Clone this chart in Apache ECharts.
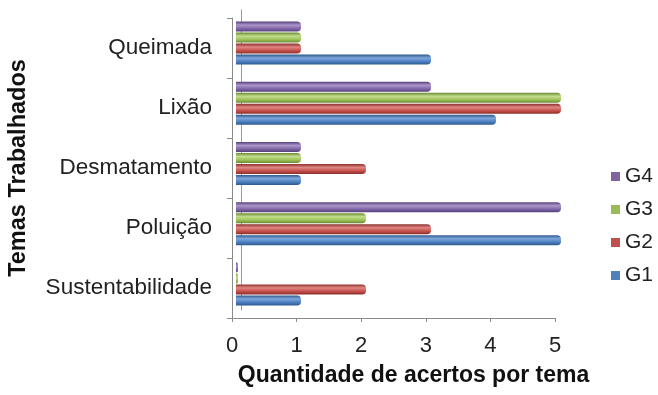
<!DOCTYPE html>
<html>
<head>
<meta charset="utf-8">
<script src="https://cdn.jsdelivr.net/npm/echarts@6/dist/echarts.min.js"></script>
<style>
html,body{margin:0;padding:0;background:#fff;}
#chart{width:658px;height:395px;}
</style>
</head>
<body>
<div id="chart"></div>
<script>
// Temas, listed from the bottom of the axis upward
const temas = ['Sustentabilidade', 'Poluição', 'Desmatamento', 'Lixão', 'Queimada'];
const g1 = [1, 5, 1, 4, 3];
const g2 = [2, 3, 2, 5, 1];
const g3 = [0, 2, 1, 5, 1];
const g4 = [0, 5, 1, 3, 1];
const xTicks = [0, 1, 2, 3, 4, 5];
const legendOrder = ['G4', 'G3', 'G2', 'G1'];

const font = '"Liberation Sans", Arial, sans-serif';

// cylinder-like shading across each bar
function tube(dark, mid, light) {
  return new echarts.graphic.LinearGradient(0, 0, 0, 1, [
    { offset: 0, color: dark },
    { offset: 0.35, color: light },
    { offset: 0.7, color: mid },
    { offset: 1, color: dark }
  ]);
}

// top-most bar in each group first
const groups = [
  { name: 'G4', data: g4, swatch: '#8064A2', fill: tube('#56407A', '#8066A6', '#AC96CB') },
  { name: 'G3', data: g3, swatch: '#9BBB59', fill: tube('#6B8A33', '#9CC157', '#C3DE8E') },
  { name: 'G2', data: g2, swatch: '#C0504D', fill: tube('#8C2F2C', '#C44E4A', '#E08683') },
  { name: 'G1', data: g1, swatch: '#4F81BD', fill: tube('#2E5A8E', '#4A7EC0', '#7EA6DA') }
];
const swatchOf = n => groups.find(g => g.name === n).swatch;

const hidden = { show: false };

const chart = echarts.init(document.getElementById('chart'));
chart.setOption({
  animation: false,
  textStyle: { fontFamily: font },
  grid: [
    // front plane: visible axes
    { left: 232, right: 103, top: 18, bottom: 77 },
    // bars sit slightly behind the front plane
    { left: 236, right: 97, top: 13, bottom: 81 },
    // back wall
    { left: 241, right: 97, top: 10, bottom: 85 }
  ],
  legend: {
    orient: 'vertical',
    left: 606,
    top: 161,
    itemWidth: 9,
    itemHeight: 9,
    itemGap: 12,
    icon: 'rect',
    data: legendOrder.map(n => ({ name: n, itemStyle: { color: swatchOf(n) } })),
    textStyle: { fontSize: 21, color: '#222', fontFamily: font }
  },
  xAxis: [
    {
      gridIndex: 0,
      type: 'value',
      min: 0,
      max: 5,
      interval: 1,
      name: 'Quantidade de acertos por tema',
      nameLocation: 'middle',
      nameGap: 46,
      nameTextStyle: {
        fontSize: 23, fontWeight: 'bold', color: '#111', fontFamily: font,
        padding: [0, 0, 0, 40]
      },
      axisLine: { show: true, lineStyle: { color: '#8a8a8a', width: 1 } },
      axisTick: { show: true, length: 4, lineStyle: { color: '#8a8a8a' } },
      splitLine: hidden,
      axisLabel: {
        fontSize: 22, color: '#222', margin: 17,
        formatter: v => (xTicks.indexOf(v) >= 0 ? String(v) : '')
      }
    },
    {
      gridIndex: 1, type: 'value', min: 0, max: 5, interval: 1,
      axisLine: hidden, axisTick: hidden, axisLabel: hidden, splitLine: hidden
    },
    {
      gridIndex: 2, type: 'value', min: 0, max: 5, interval: 1,
      axisLine: hidden, axisTick: hidden, axisLabel: hidden, splitLine: hidden
    }
  ],
  yAxis: [
    {
      gridIndex: 0,
      type: 'category',
      data: temas,
      name: 'Temas Trabalhados',
      nameLocation: 'middle',
      nameRotate: 90,
      nameGap: 201,
      nameTextStyle: { fontSize: 23.5, fontWeight: 'bold', color: '#111', fontFamily: font },
      axisLine: { show: true, lineStyle: { color: '#8a8a8a', width: 1 } },
      axisTick: { show: true, length: 5, lineStyle: { color: '#8a8a8a' } },
      axisLabel: { fontSize: 22.5, color: '#222', margin: 20 }
    },
    {
      gridIndex: 1, type: 'category', data: temas,
      axisLine: hidden, axisTick: hidden, axisLabel: hidden, splitLine: hidden
    },
    {
      gridIndex: 2, type: 'category', data: temas,
      axisLine: { show: true, lineStyle: { color: '#9a9a9a', width: 1 } },
      axisTick: hidden, axisLabel: hidden, splitLine: hidden
    }
  ],
  series: groups.map(g => ({
    name: g.name,
    type: 'bar',
    xAxisIndex: 1,
    yAxisIndex: 1,
    data: g.data,
    barWidth: 10,
    barGap: '10%',
    barMinHeight: 2,
    z: 3,
    color: g.swatch,
    itemStyle: { color: g.fill, borderRadius: [0, 4, 4, 0] }
  }))
});
</script>
</body>
</html>
